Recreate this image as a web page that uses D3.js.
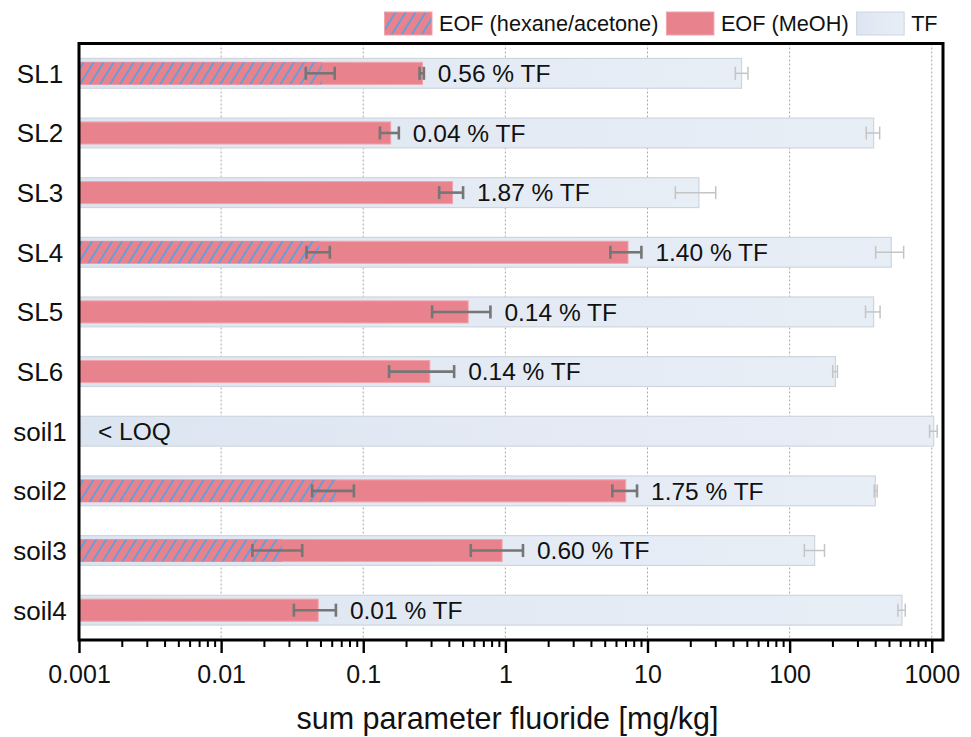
<!DOCTYPE html>
<html><head><meta charset="utf-8">
<script src="https://cdn.jsdelivr.net/npm/d3@7"></script>
<style>
html,body{margin:0;padding:0;background:#fff;}
svg{display:block;font-family:"Liberation Sans",Arial,Helvetica,sans-serif;}
</style></head>
<body><svg id="chart" width="971" height="737"></svg>
<script>
// ---- data ----
const categories = ["SL1","SL2","SL3","SL4","SL5","SL6","soil1","soil2","soil3","soil4"];
const tfValues  = [45.9, 390, 23.0, 519, 390, 210, 1031, 401, 150, 617];
const tfLow     = [41.5, 346, 15.7, 403, 342, 201, 966, 394, 127, 578];
const tfHigh    = [50.9, 430, 30.2, 634, 433, 217, 1092, 413, 176, 651];
const meohValues = [0.261, 0.156, 0.425, 7.29, 0.547, 0.294, null, 7.03, 0.948, 0.0482];
const meohLow    = [0.249, 0.131, 0.342, 5.48, 0.305, 0.152, null, 5.66, 0.571, 0.0325];
const meohHigh   = [0.267, 0.178, 0.504, 9.06, 0.785, 0.436, null, 8.44, 1.33, 0.0642];
const hexValues  = [0.0514, null, null, 0.049, null, null, null, 0.0642, 0.0269, null];
const hexLow     = [0.0394, null, null, 0.0399, null, null, null, 0.0437, 0.0166, null];
const hexHigh    = [0.063, null, null, 0.0582, null, null, null, 0.0859, 0.0372, null];
const pctLabels  = ["0.56 % TF","0.04 % TF","1.87 % TF","1.40 % TF","0.14 % TF","0.14 % TF","< LOQ","1.75 % TF","0.60 % TF","0.01 % TF"];
const tickValues = [0.001, 0.01, 0.1, 1, 10, 100, 1000];
const tickLabels = ["0.001","0.01","0.1","1","10","100","1000"];
const legendLabels = ["EOF (hexane/acetone)","EOF (MeOH)","TF"];
const xTitle = "sum parameter fluoride [mg/kg]";

// ---- layout ----
const svg = d3.select("#chart");
const L = 79, R = 943, T = 43.5, B = 640;
const x = d3.scaleLog().domain([0.001, 1200]).range([L, R]);
const y = d3.scaleBand().domain(categories).range([T, B]).paddingInner(0.5).paddingOuter(0.25);
const bw = y.bandwidth();
const eh = bw * 0.74;

const pink = "#e8828d", pinkStroke = "#f3a3ab", blueHatch = "#3fa6f0";
const tfStroke = "#cfd5dd";

const defs = svg.append("defs");
const pat = defs.append("pattern").attr("id","hatch").attr("patternUnits","userSpaceOnUse")
  .attr("width",8.5).attr("height",8.5).attr("patternTransform","rotate(32)");
pat.append("rect").attr("width",8.5).attr("height",8.5).attr("fill",pink);
pat.append("line").attr("x1",2).attr("x2",2).attr("y1",0).attr("y2",8.5)
  .attr("stroke",blueHatch).attr("stroke-width",1.5);
const grad = defs.append("linearGradient").attr("id","tfgrad").attr("x1","0").attr("x2","1").attr("y1","0").attr("y2","0");
grad.append("stop").attr("offset","0").attr("stop-color","#dbe5f1");
grad.append("stop").attr("offset","0.5").attr("stop-color","#e3eaf4");
grad.append("stop").attr("offset","1").attr("stop-color","#e8eef6");

// gridlines
svg.append("g").selectAll("line").data(tickValues).join("line")
  .attr("x1", d => x(d)).attr("x2", d => x(d)).attr("y1", T).attr("y2", B)
  .attr("stroke","#a9a9a9").attr("stroke-width",1).attr("stroke-dasharray","2,2");

const idx = d3.range(categories.length);
const cy = i => y(categories[i]) + bw / 2;

// TF bars
svg.append("g").selectAll("rect").data(idx).join("rect")
  .attr("x", x(0.001)).attr("y", i => y(categories[i]))
  .attr("width", i => x(tfValues[i]) - x(0.001)).attr("height", bw)
  .attr("fill","url(#tfgrad)").attr("stroke",tfStroke).attr("stroke-width",1.2);

// MeOH bars
const mIdx = idx.filter(i => meohValues[i] != null);
svg.append("g").selectAll("rect").data(mIdx).join("rect")
  .attr("x", x(0.001)).attr("y", i => cy(i) - eh/2)
  .attr("width", i => x(meohValues[i]) - x(0.001)).attr("height", eh)
  .attr("fill",pink).attr("stroke",pinkStroke).attr("stroke-width",1);

// hexane/acetone bars
const hIdx = idx.filter(i => hexValues[i] != null);
svg.append("g").selectAll("rect").data(hIdx).join("rect")
  .attr("x", x(0.001)).attr("y", i => cy(i) - eh/2)
  .attr("width", i => x(hexValues[i]) - x(0.001)).attr("height", eh)
  .attr("fill","url(#hatch)");

// error bars
function errBars(indices, lo, hi, color, sw, cap) {
  const g = svg.append("g").attr("stroke", color).attr("stroke-width", sw).attr("fill","none");
  indices.forEach(i => {
    const yy = cy(i);
    g.append("line").attr("x1", x(lo[i])).attr("x2", x(hi[i])).attr("y1", yy).attr("y2", yy);
    g.append("line").attr("x1", x(lo[i])).attr("x2", x(lo[i])).attr("y1", yy - cap).attr("y2", yy + cap);
    g.append("line").attr("x1", x(hi[i])).attr("x2", x(hi[i])).attr("y1", yy - cap).attr("y2", yy + cap);
  });
}
errBars(idx, tfLow, tfHigh, "#c4c4c4", 1.5, 6.5);
errBars(mIdx, meohLow, meohHigh, "#767676", 2.6, 6.5);
errBars(hIdx, hexLow, hexHigh, "#767676", 2.6, 6.5);

// percent labels
svg.append("g").selectAll("text").data(idx).join("text")
  .attr("x", i => meohHigh[i] != null ? x(meohHigh[i]) + 14 : x(0.001) + 19)
  .attr("y", i => cy(i)).attr("dy","0.36em")
  .attr("font-size", 24.5).attr("fill","#111")
  .text(i => pctLabels[i]);

// category labels
svg.append("g").selectAll("text").data(categories).join("text")
  .attr("x", 40).attr("y", d => y(d) + bw/2).attr("dy","0.36em")
  .attr("text-anchor","middle").attr("font-size", 26).attr("fill","#111")
  .text(d => d);

// frame
svg.append("rect").attr("x", L).attr("y", T).attr("width", R - L).attr("height", B - T)
  .attr("fill","none").attr("stroke","#000").attr("stroke-width",3);

// axis with major + minor ticks
const minor = [];
for (let e = -3; e <= 2; e++) for (let m = 2; m <= 9; m++) minor.push(m * Math.pow(10, e));
const axMinor = svg.append("g").attr("transform", `translate(0,${B})`)
  .call(d3.axisBottom(x).tickValues(minor).tickSize(7).tickFormat(""));
axMinor.select(".domain").remove();
axMinor.selectAll("line").attr("stroke","#000").attr("stroke-width",2);
const ax = svg.append("g").attr("transform", `translate(0,${B})`)
  .call(d3.axisBottom(x).tickValues(tickValues).tickSize(13).tickPadding(12)
    .tickFormat((d,i) => tickLabels[i]));
ax.select(".domain").remove();
ax.selectAll("line").attr("stroke","#000").attr("stroke-width",2.4);
ax.selectAll("text").attr("font-size",25).attr("fill","#111")
  .attr("font-family",'"Liberation Sans",Arial,sans-serif');

// axis title
svg.append("text").attr("x", (L + 932) / 2 + 2).attr("y", 729)
  .attr("text-anchor","middle").attr("font-size", 30.5).attr("fill","#111").text(xTitle);

// legend
const fills = ["url(#hatch)", pink, "url(#tfgrad)"];
const strokes = [pinkStroke, pinkStroke, tfStroke];
let lx = 384.5;
const lg = svg.append("g");
legendLabels.forEach((lab, i) => {
  lg.append("rect").attr("x", lx).attr("y", 12).attr("width", 47.5).attr("height", 23)
    .attr("fill", fills[i]).attr("stroke", strokes[i]).attr("stroke-width",1);
  const t = lg.append("text").attr("x", lx + 54.5).attr("y", 31).attr("font-size", 21.7)
    .attr("fill","#111").text(lab);
  lx = lx + 54.5 + t.node().getComputedTextLength() + 8;
});
</script></body></html>
